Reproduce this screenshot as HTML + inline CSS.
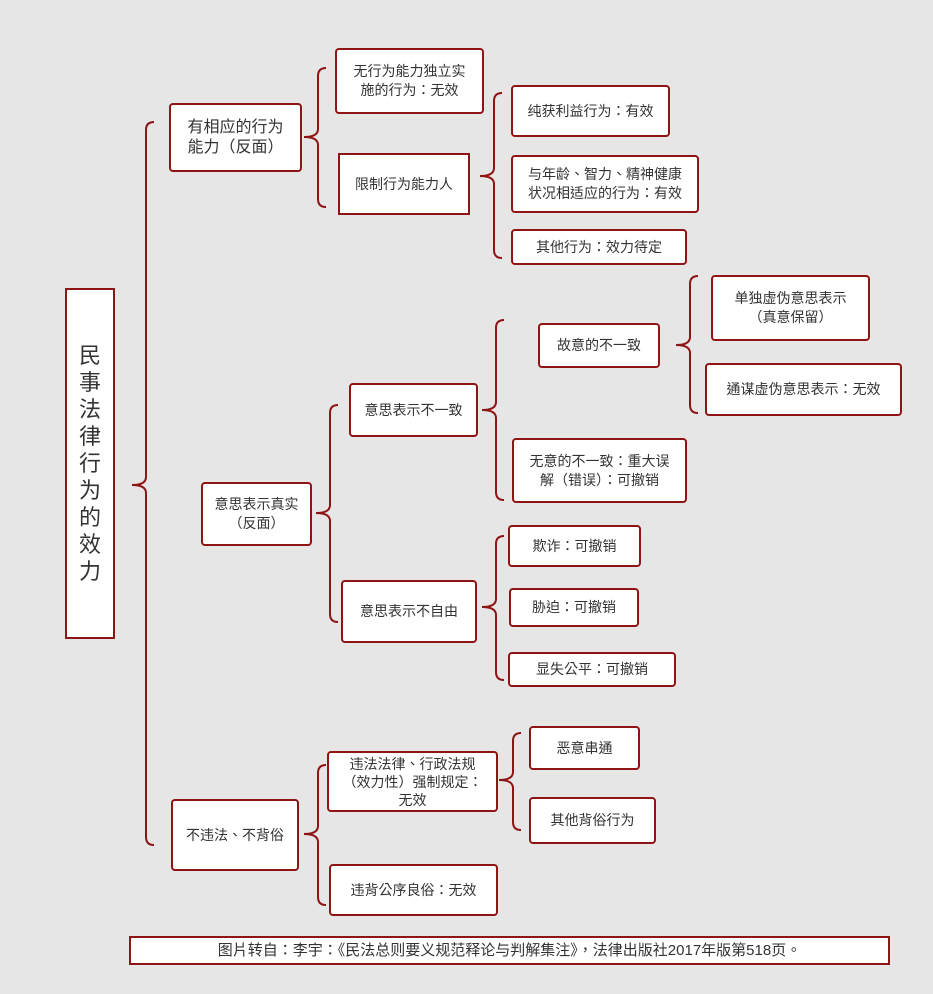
<!DOCTYPE html>
<html><head><meta charset="utf-8"><style>
body{margin:0;width:933px;height:994px;background:#e6e6e6;position:relative;overflow:hidden;font-family:"Liberation Sans","Noto Sans CJK TC",sans-serif;color:#333;}
.b{position:absolute;box-sizing:border-box;background:#fff;border:2px solid #8f1414;border-radius:4px;display:flex;align-items:center;justify-content:center;text-align:center;font-size:14px;line-height:19px;}
svg{position:absolute;left:0;top:0;}
</style></head><body>
<svg width="933" height="994"><g fill="none" stroke="#8f1414" stroke-width="2">
<path d="M154 122 Q146 122 146 130 L146 477 Q146 485 132 485 Q146 485 146 493 L146 837 Q146 845 154 845"/>
<path d="M326 68 Q318 68 318 76 L318 129 Q318 137 304 137 Q318 137 318 145 L318 199 Q318 207 326 207"/>
<path d="M502 93 Q494 93 494 101 L494 168 Q494 176 480 176 Q494 176 494 184 L494 250 Q494 258 502 258"/>
<path d="M338 405 Q330 405 330 413 L330 505 Q330 513 316 513 Q330 513 330 521 L330 614 Q330 622 338 622"/>
<path d="M504 320 Q496 320 496 328 L496 402 Q496 410 482 410 Q496 410 496 418 L496 492 Q496 500 504 500"/>
<path d="M698 276 Q690 276 690 284 L690 337 Q690 345 676 345 Q690 345 690 353 L690 405 Q690 413 698 413"/>
<path d="M504 536 Q496 536 496 544 L496 599 Q496 607 482 607 Q496 607 496 615 L496 672 Q496 680 504 680"/>
<path d="M326 765 Q318 765 318 773 L318 826 Q318 834 304 834 Q318 834 318 842 L318 897 Q318 905 326 905"/>
<path d="M521 733 Q513 733 513 741 L513 772 Q513 780 499 780 Q513 780 513 788 L513 822 Q513 830 521 830"/>
</g></svg>
<div class="b" style="left:65px;top:288px;width:50px;height:351px;border-radius:0;font-size:22px;line-height:27px;">民<br>事<br>法<br>律<br>行<br>为<br>的<br>效<br>力</div>
<div class="b" style="left:169px;top:103px;width:133px;height:69px;font-size:16px;line-height:20px;">有相应的行为<br>能力（反面）</div>
<div class="b" style="left:335px;top:48px;width:149px;height:66px;">无行为能力独立实<br>施的行为：无效</div>
<div class="b" style="left:338px;top:153px;width:132px;height:62px;border-radius:0;">限制行为能力人</div>
<div class="b" style="left:511px;top:85px;width:159px;height:52px;">纯获利益行为：有效</div>
<div class="b" style="left:511px;top:155px;width:188px;height:58px;">与年龄、智力、精神健康<br>状况相适应的行为：有效</div>
<div class="b" style="left:511px;top:229px;width:176px;height:36px;">其他行为：效力待定</div>
<div class="b" style="left:201px;top:482px;width:111px;height:64px;">意思表示真实<br>（反面）</div>
<div class="b" style="left:349px;top:383px;width:129px;height:54px;">意思表示不一致</div>
<div class="b" style="left:538px;top:323px;width:122px;height:45px;">故意的不一致</div>
<div class="b" style="left:711px;top:275px;width:159px;height:66px;">单独虚伪意思表示<br>（真意保留）</div>
<div class="b" style="left:705px;top:363px;width:197px;height:53px;">通谋虚伪意思表示：无效</div>
<div class="b" style="left:512px;top:438px;width:175px;height:65px;">无意的不一致：重大误<br>解（错误）：可撤销</div>
<div class="b" style="left:341px;top:580px;width:136px;height:63px;">意思表示不自由</div>
<div class="b" style="left:508px;top:525px;width:133px;height:42px;">欺诈：可撤销</div>
<div class="b" style="left:509px;top:588px;width:130px;height:39px;">胁迫：可撤销</div>
<div class="b" style="left:508px;top:652px;width:168px;height:35px;">显失公平：可撤销</div>
<div class="b" style="left:171px;top:799px;width:128px;height:72px;">不违法、不背俗</div>
<div class="b" style="left:327px;top:751px;width:171px;height:61px;line-height:18px;">违法法律、行政法规<br>（效力性）强制规定：<br>无效</div>
<div class="b" style="left:329px;top:864px;width:169px;height:52px;">违背公序良俗：无效</div>
<div class="b" style="left:529px;top:726px;width:111px;height:44px;">恶意串通</div>
<div class="b" style="left:529px;top:797px;width:127px;height:47px;">其他背俗行为</div>
<div class="b" style="left:129px;top:936px;width:761px;height:29px;border-radius:0;font-size:15px;">图片转自：李宇：《民法总则要义规范释论与判解集注》，法律出版社2017年版第518页。</div>
</body></html>
